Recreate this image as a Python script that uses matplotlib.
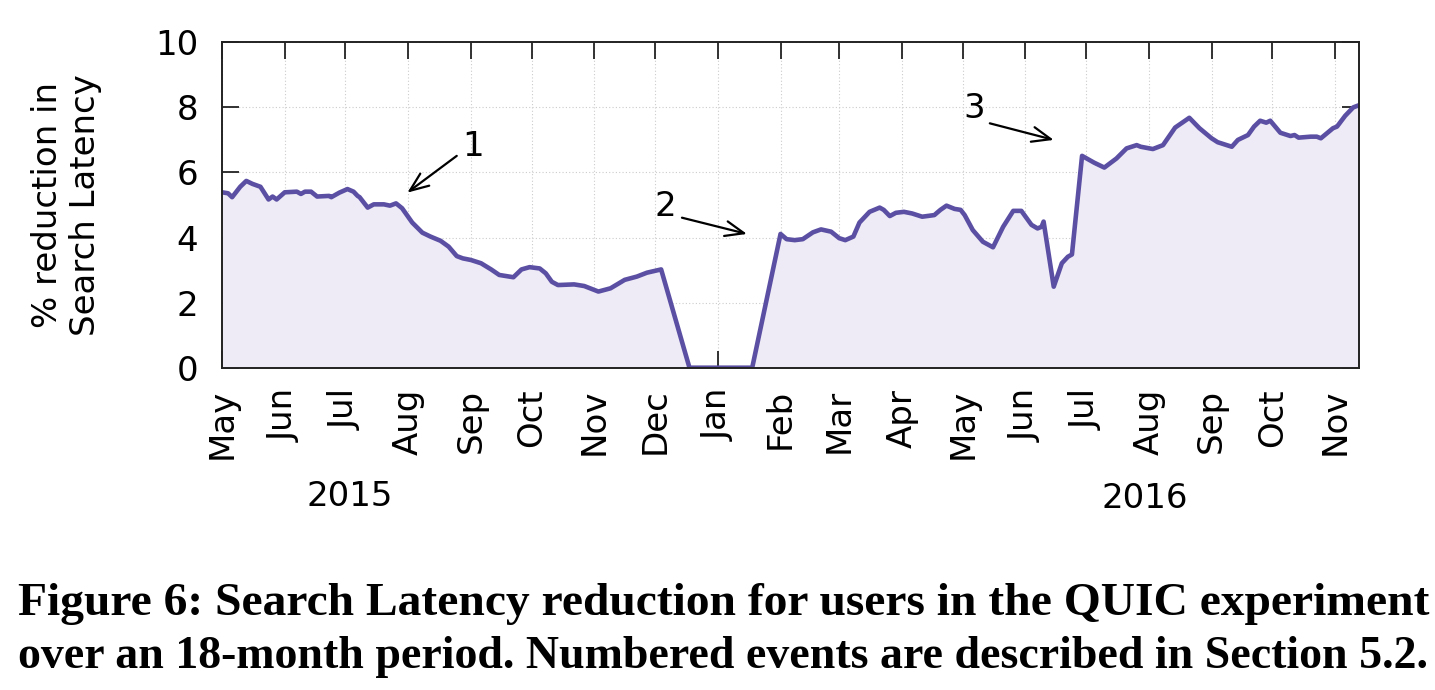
import numpy as np
import matplotlib
matplotlib.use("Agg")
import matplotlib.pyplot as plt
import matplotlib.dates as mdates

# days after 2015-05-01
days = [0, 3, 5, 9, 12, 15, 19, 23, 25, 27, 31, 37, 39, 41, 44, 47, 53, 54, 58, 62,
        65, 67, 68, 72, 75, 80, 83, 86, 89, 94, 99, 103, 108, 112, 116, 119, 123, 128,
        133, 137, 144, 148, 152, 157, 160, 163, 166, 174, 179, 186, 192, 199, 205, 210,
        217, 231, 262, 276, 279, 283, 287, 292, 296, 301, 305, 308, 312, 315, 320, 325,
        327, 330, 333, 337, 341, 346, 352, 355, 358, 362, 365, 367, 371, 376, 381, 386,
        391, 395, 400, 403, 405, 406, 411, 415, 418, 420, 425, 431, 436, 442, 447, 452,
        454, 460, 465, 471, 478, 483, 489, 492, 499, 502, 507, 510, 513, 516, 518, 523,
        528, 530, 532, 538, 541, 543, 549, 551, 555, 559, 562]
reduction = [5.39, 5.36, 5.24, 5.56, 5.74, 5.65, 5.56, 5.17, 5.26, 5.17, 5.39, 5.41, 5.34,
             5.41, 5.41, 5.26, 5.28, 5.24, 5.38, 5.49, 5.41, 5.28, 5.24, 4.92, 5.02, 5.02,
             4.98, 5.05, 4.90, 4.46, 4.15, 4.03, 3.90, 3.72, 3.43, 3.36, 3.31, 3.21, 3.02,
             2.85, 2.78, 3.02, 3.09, 3.05, 2.90, 2.64, 2.54, 2.56, 2.51, 2.34, 2.44, 2.70,
             2.80, 2.92, 3.02, 0.0, 0.0, 4.11, 3.95, 3.92, 3.95, 4.16, 4.25, 4.18, 3.98,
             3.92, 4.03, 4.46, 4.79, 4.92, 4.85, 4.66, 4.76, 4.79, 4.74, 4.64, 4.69, 4.85,
             4.98, 4.88, 4.85, 4.69, 4.23, 3.87, 3.70, 4.33, 4.82, 4.82, 4.39, 4.28, 4.33,
             4.49, 2.49, 3.21, 3.41, 3.48, 6.51, 6.30, 6.15, 6.43, 6.74, 6.84, 6.79, 6.72,
             6.84, 7.38, 7.68, 7.36, 7.05, 6.93, 6.79, 7.00, 7.15, 7.41, 7.59, 7.53, 7.59,
             7.22, 7.12, 7.15, 7.07, 7.10, 7.10, 7.05, 7.36, 7.41, 7.74, 8.00, 8.07]

# numbered events: label, text pos, arrow start, arrow end (day, value)
event_labels = ["1", "2", "3"]
event_text = [(124, 6.81), (219, 4.95), (371.5, 7.97)]
event_from = [(116, 6.51), (227.3, 4.61), (379.4, 7.51)]
event_to = [(91.6, 5.38), (259.4, 4.11), (411, 7.00)]

years = ["2015", "2016"]
caption = ["Figure 6: Search Latency reduction for users in the QUIC experiment",
           "over an 18-month period. Numbered events are described in Section 5.2."]

start = np.datetime64("2015-05-01")
def to_date(d):
    return mdates.date2num(start + np.timedelta64(int(round(d * 24)), "h"))

x = [to_date(d) for d in days]

line_col = "#5a4fa3"
fill_col = "#eeebf6"
fs = 24.5

fig = plt.figure(figsize=(14.35, 6.9), dpi=100)
ax = fig.add_axes([222 / 1435, 1 - 367.7 / 690, 1137.3 / 1435, 325.4 / 690])

ax.fill_between(x, reduction, 0, color=fill_col, lw=0, zorder=1)
ax.plot(x, reduction, color=line_col, lw=3.3, solid_joinstyle="round", zorder=3)

ax.set_xlim(to_date(0), to_date(562))
ax.set_ylim(0, 10)
ax.set_yticks([0, 2, 4, 6, 8, 10])
ax.xaxis.set_major_locator(mdates.MonthLocator())
ax.xaxis.set_major_formatter(mdates.DateFormatter("%b"))

ax.tick_params(axis="both", direction="in", length=12.5, width=1.3, labelsize=fs,
               top=True, right=True, color="#222222")
ax.tick_params(axis="x", pad=15, labelrotation=90)
ax.tick_params(axis="y", pad=17)
for lab in ax.get_xticklabels():
    lab.set_va("top")
    lab.set_ha("center")

ax.grid(True, color="#cccccc", ls=(0, (1, 2)), lw=0.8, zorder=0)
ax.set_axisbelow(True)
for s in ax.spines.values():
    s.set_linewidth(1.4)
    s.set_color("#222222")
    s.set_zorder(5)

ax.set_ylabel("% reduction in\nSearch Latency", fontsize=fs, linespacing=1.2)
ax.yaxis.set_label_coords(-0.1055, 0.5)

for lab, tp, fp, ep in zip(event_labels, event_text, event_from, event_to):
    ax.text(to_date(tp[0]), tp[1], lab, fontsize=fs, ha="center", va="center", zorder=6)
    ax.annotate("", xy=(to_date(ep[0]), ep[1]), xytext=(to_date(fp[0]), fp[1]),
                arrowprops=dict(arrowstyle="->,head_length=0.55,head_width=0.22",
                                color="black", lw=1.6, shrinkA=0, shrinkB=0,
                                mutation_scale=fs), zorder=6)

fig.text(350 / 1435, 1 - 497 / 690, years[0], fontsize=fs, ha="center", va="center")
fig.text(1145 / 1435, 1 - 498 / 690, years[1], fontsize=fs, ha="center", va="center")

# caption, each line sized to span the text width
renderer = fig.canvas.get_renderer()
for line, base in zip(caption, [615, 668]):
    t = fig.text(18 / 1435, 1 - base / 690, line, fontsize=30,
                 family="Liberation Serif", weight="bold", ha="left", va="baseline")
    w = t.get_window_extent(renderer).width
    t.set_fontsize(30 * 1407 / w)

fig.savefig("out.png", dpi=100)
